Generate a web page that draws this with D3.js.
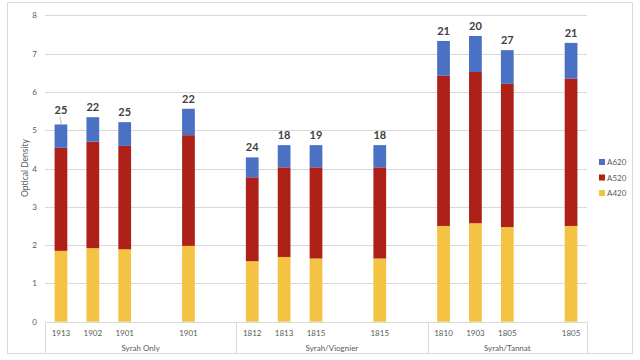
<!DOCTYPE html>
<html><head><meta charset="utf-8">
<script src="https://cdn.jsdelivr.net/npm/d3@7"></script>
<style>body{margin:0;background:#fff}svg{display:block;font-family:Lato,"Open Sans",sans-serif}</style>
</head><body><svg id="c" width="640" height="360"></svg>
<script>
const slots = ["1913","1902","1901","","1901","","1812","1813","1815","","1815","","1810","1903","1805","","1805"];
const groups = ["Syrah Only","Syrah/Viognier","Syrah/Tannat"];
const groupSizes = [6,6,5];
const a420 = [1.85,1.92,1.89,null,1.98,null,1.58,1.69,1.65,null,1.65,null,2.50,2.57,2.47,null,2.50];
const a520 = [2.69,2.78,2.70,null,2.89,null,2.19,2.34,2.38,null,2.38,null,3.92,3.95,3.74,null,3.85];
const a620 = [0.61,0.64,0.62,null,0.69,null,0.52,0.58,0.58,null,0.58,null,0.91,0.94,0.88,null,0.93];
const topLabels = [25,22,25,null,22,null,24,18,19,null,18,null,21,20,27,null,21];
const yTicks = [0,1,2,3,4,5,6,7,8];
const seriesNames = ["A420","A520","A620"];
const colors = {A420:"#f4c343",A520:"#ad2119",A620:"#4a71c3"};

const svg = d3.select("#c");
// chart border
svg.append("rect").attr("x",7.5).attr("y",2.5).attr("width",625).attr("height",351)
  .attr("fill","none").attr("stroke","#d9d9d9");

const x0 = 45, x1 = 587;
const x = d3.scaleBand().domain(slots.map((d,i)=>i)).range([x0,x1]).paddingInner(0.6).paddingOuter(0.3);
const y = d3.scaleLinear().domain([0,8]).range([321.7,15.3]);

// gridlines
svg.append("g").selectAll("line").data(yTicks.slice(1)).join("line")
  .attr("x1",x0).attr("x2",x1).attr("y1",d=>Math.round(y(d))+0.5).attr("y2",d=>Math.round(y(d))+0.5)
  .attr("stroke","#d9d9d9");
// y axis labels
const yAxis = d3.axisLeft(y).tickValues(yTicks).tickSize(0).tickPadding(8).tickFormat(d3.format("d"));
const ga = svg.append("g").attr("transform",`translate(${x0},0)`).call(yAxis);
ga.select(".domain").remove();
ga.selectAll("text").attr("font-size",8).attr("fill","#595959").attr("font-family","Lato,'Open Sans',sans-serif");

svg.append("text").attr("transform","translate(28,168) rotate(-90)").attr("text-anchor","middle")
  .attr("font-size",8.5).attr("fill","#595959").text("Optical Density");

// data rows
const rows = slots.map((s,i)=>({i, A420:a420[i]||0, A520:a520[i]||0, A620:a620[i]||0, has:a420[i]!=null}));
const stack = d3.stack().keys(seriesNames)(rows);
svg.append("g").selectAll("g").data(stack).join("g").attr("fill",d=>colors[d.key])
  .selectAll("rect").data(d=>d.filter(p=>p.data.has)).join("rect")
  .attr("x",d=>x(d.data.i)).attr("width",x.bandwidth())
  .attr("y",d=>y(d[1])).attr("height",d=>y(d[0])-y(d[1]));

// top labels
rows.filter(r=>r.has).forEach(r=>{
  const top = y(r.A420+r.A520+r.A620);
  const cx = x(r.i)+x.bandwidth()/2;
  const off = r.i===0 ? 10 : 6;
  svg.append("text").attr("x",cx).attr("y",top-off).attr("text-anchor","middle")
    .attr("font-size",11).attr("font-weight","bold").attr("fill","#404040").text(topLabels[r.i]);
  if(r.i===0){
    svg.append("line").attr("x1",cx-1).attr("y1",top-8).attr("x2",cx+0.5).attr("y2",top)
      .attr("stroke","#a6a6a6").attr("stroke-width",0.8);
  }
});

// x axis multi-level
const axisY = Math.round(y(0))+0.5;
svg.append("line").attr("x1",x0).attr("x2",x1).attr("y1",axisY).attr("y2",axisY).attr("stroke","#d9d9d9");
let start = 0;
const bounds = [x0];
groupSizes.forEach((n,gi)=>{
  const gStart = start===0 ? x0 : x(start) - x.step()*x.paddingInner()/2;
  const endIdx = start+n-1;
  const gEnd = endIdx===slots.length-1 ? x1 : x(endIdx)+x.bandwidth()+x.step()*x.paddingInner()/2;
  bounds.push(gEnd);
  svg.append("text").attr("x",(gStart+gEnd)/2).attr("y",351).attr("text-anchor","middle")
    .attr("font-size",8).attr("fill","#595959").text(groups[gi]);
  start += n;
});
svg.append("g").selectAll("line").data(bounds).join("line")
  .attr("x1",d=>Math.round(d)+0.5).attr("x2",d=>Math.round(d)+0.5).attr("y1",axisY).attr("y2",353)
  .attr("stroke","#d9d9d9");
svg.append("g").selectAll("text").data(slots.map((s,i)=>({s,i})).filter(d=>d.s)).join("text")
  .attr("x",d=>x(d.i)+x.bandwidth()/2).attr("y",336).attr("text-anchor","middle")
  .attr("font-size",8).attr("fill","#595959").text(d=>d.s);

// legend
const legendItems = ["A620","A520","A420"];
const lg = svg.append("g").selectAll("g").data(legendItems).join("g")
  .attr("transform",(d,i)=>`translate(599,${159+i*15.5})`);
lg.append("rect").attr("width",6).attr("height",6).attr("fill",d=>colors[d]);
lg.append("text").attr("x",8).attr("y",6).attr("font-size",8).attr("fill","#595959").text(d=>d);
</script></body></html>
